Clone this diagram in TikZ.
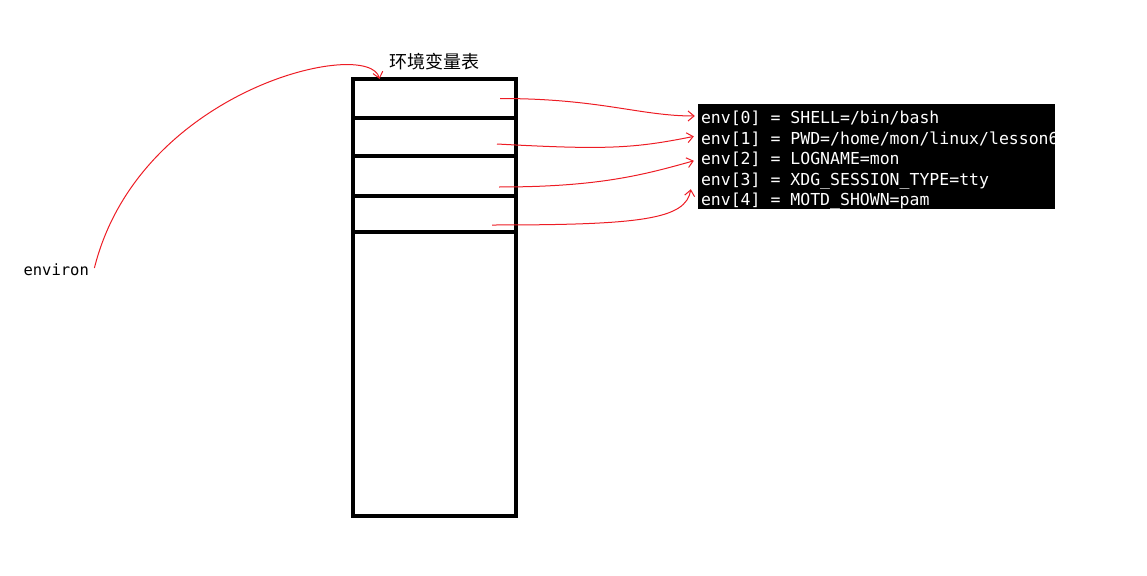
\documentclass[tikz,border=0pt]{standalone}
\usepackage{fontspec}
\setmonofont{DejaVu Sans Mono}
\newfontfamily\cjk{Noto Sans CJK SC}
\usetikzlibrary{arrows.meta,positioning}
\definecolor{paintred}{RGB}{237,28,36}

\begin{document}
\begin{tikzpicture}[x=1pt,y=1pt,>={Straight Barb[length=6pt,width=10pt]},
  cell/.style={draw,line width=3.4pt,minimum width=163pt,inner sep=0pt,outer sep=0pt},
  envline/.style={text=white,font=\ttfamily\fontsize{16.5}{20}\selectfont,inner sep=0pt,
    text height=14pt,text depth=6pt,anchor=north west},
  link/.style={->,paintred,line width=1pt}]
\useasboundingbox (0,0) rectangle (1147,-575);

% table of the environment
\node[cell,minimum height=39pt] (t0) at (434.5,-98.5) {};
\node[cell,minimum height=38pt,below=0pt of t0] (t1) {};
\node[cell,minimum height=40pt,below=0pt of t1] (t2) {};
\node[cell,minimum height=36pt,below=0pt of t2] (t3) {};
\node[cell,minimum height=284pt,below=0pt of t3] (tb) {};
\node[above=5pt of t0,font=\cjk\fontsize{18}{18}\selectfont] (title) {环境变量表};

\node[anchor=west,font=\ttfamily\fontsize{15.5}{15.5}\selectfont] (envp) at (20,-270) {environ};

% terminal output
\node[fill=black,minimum width=357pt,minimum height=105pt,inner sep=0pt] (box) at (876.5,-156.5) {};
\begin{scope}
\clip (box.south west) rectangle (box.north east);
\node[envline] (e0) at ([xshift=3pt,yshift=-6pt]box.north west) {env[0] = SHELL=/bin/bash};
\node[envline] (e1) at (e0.south west) {env[1] = PWD=/home/mon/linux/lesson6};
\node[envline] (e2) at (e1.south west) {env[2] = LOGNAME=mon};
\node[envline] (e3) at (e2.south west) {env[3] = XDG\_SESSION\_TYPE=tty};
\node[envline] (e4) at (e3.south west) {env[4] = MOTD\_SHOWN=pam};
\end{scope}

\draw[link] ([xshift=2pt,yshift=2pt]envp.east) .. controls +(45,180) and +(-10,42) .. ([xshift=-55pt]t0.north);
\draw[link] ([xshift=-16pt]t0.east) .. controls +(100,0) and +(-55,0) .. ([xshift=-6pt,yshift=4pt]e0.west);
\draw[link] ([xshift=-19pt,yshift=-7pt]t1.east) .. controls +(110,-6) and +(-60,-12) .. ([xshift=-7pt,yshift=4pt]e1.west);
\draw[link] ([xshift=-17pt,yshift=-11pt]t2.east) .. controls +(100,0) and +(-50,-14) .. ([xshift=-7pt]e2.west);
\draw[link] ([xshift=-24pt,yshift=-11pt]t3.east) .. controls +(150,0) and +(-5,-30) .. ([xshift=-10pt,yshift=-8pt]e3.west);
\end{tikzpicture}
\end{document}
